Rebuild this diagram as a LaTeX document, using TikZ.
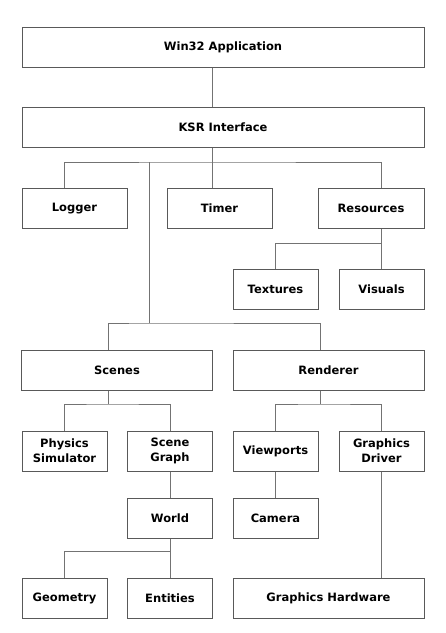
\documentclass[tikz,border=0pt]{standalone}
\usepackage{fontspec}
\setmainfont{DejaVu Sans}
\usepackage{tikz}
\usetikzlibrary{positioning}

\begin{document}
\begin{tikzpicture}[x=1pt, y=-1pt,
        box/.style = {draw=black!65, line width=1pt, fill=white, minimum height=40pt, inner sep=2pt,
                      align=center, font=\fontsize{11.5}{15}\selectfont\bfseries},
        small/.style = {box, minimum width=85pt},
        wide/.style = {box, minimum width=191pt},
        full/.style = {box, minimum width=402pt},
        link/.style = {draw=black!55, line width=1pt},]
    \useasboundingbox (0,0) rectangle (446,633);

    % top of the tree
    \node[full] (win) at (223,47) {Win32 Application};
    \node[full] (ksr) at (223,127.5) {KSR Interface};

    \node[box, minimum width=105pt] (logger) at (74.5,208.5) {Logger};
    \node[box, minimum width=105pt] (timer) at (219.5,208.5) {Timer};
    \node[box, minimum width=106pt] (res) at (371,208.5) {Resources};
    \node[small] (tex) at (275.5,289) {Textures};
    \node[small] (vis) at (381.5,289) {Visuals};

    % scenes and renderer
    \node[wide] (scenes) at (117,370) {Scenes};
    \node[wide] (renderer) at (328.5,370) {Renderer};
    \node[small] (phys) at (64.5,451) {Physics\\Simulator};
    \node[small] (sgraph) at (170,451) {Scene\\Graph};
    \node[small] (view) at (275.5,451) {Viewports};
    \node[small] (gdrv) at (381.5,451) {Graphics\\Driver};
    \node[small] (world) at (170,518) {World};
    \node[small] (camera) at (275.5,518) {Camera};
    \node[small] (geom) at (64.5,598) {Geometry};
    \node[small] (ent) at (170,598) {Entities};
    \node[wide] (ghw) at (328.5,598) {Graphics Hardware};

    % junctions
    \coordinate (jksr) at (212,162);
    \coordinate (jsc) at (149,323);
    \coordinate (jres) at (381.5,243);
    \coordinate (jscn) at (108,404);
    \coordinate (jren) at (320,404);
    \coordinate (jwld) at (170,551);

    \draw[link] (win.south -| jksr) -- (ksr.north -| jksr);
    \draw[link] (ksr.south -| jksr) -- (timer.north -| jksr);
    \draw[link] (logger.north -| phys) |- (jksr) -| (res.north -| vis);
    \draw[link] (jsc |- jksr) -- (jsc);
    \draw[link] (scenes.north -| jscn) |- (jsc) -| (renderer.north -| jren);

    \draw[link] (res.south -| vis) -- (vis.north);
    \draw[link] (tex.north) |- (jres);

    \draw[link] (scenes.south -| jscn) -- (jscn);
    \draw[link] (phys.north) |- (jscn) -| (sgraph.north);
    \draw[link] (renderer.south -| jren) -- (jren);
    \draw[link] (view.north) |- (jren) -| (gdrv.north);

    \draw[link] (sgraph.south) -- (world.north);
    \draw[link] (view.south) -- (camera.north);
    \draw[link] (world.south) -- (jwld);
    \draw[link] (geom.north) |- (jwld) -- (ent.north);
    \draw[link] (gdrv.south) -- (ghw.north -| gdrv);
\end{tikzpicture}
\end{document}
